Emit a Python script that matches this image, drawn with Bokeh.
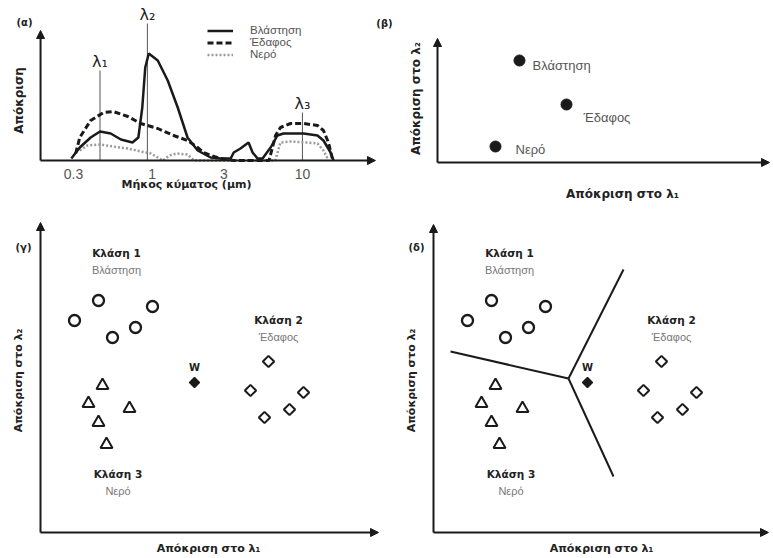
import math
from bokeh.plotting import figure
from bokeh.layouts import row, column
from bokeh.models import (Arrow, NormalHead, Label, LabelSet, Range1d,
                          ColumnDataSource, Legend, LegendItem)
from bokeh.core.properties import value
from bokeh.embed import file_html
from bokeh.resources import INLINE

# ---------------- data: panel (α) spectral responses ----------------
veg_um = [0.29, 0.33, 0.39, 0.45, 0.53, 0.62, 0.74, 0.81, 0.86, 0.90, 0.95, 1.09, 1.27,
          1.48, 1.72, 2.01, 2.45, 2.85, 3.33, 3.49, 3.87, 4.38, 4.66, 5.03, 5.43, 6.14,
          6.82, 7.48, 10.2, 12.6, 13.8, 15.4, 16.1]
veg_resp = [0.02, 0.13, 0.23, 0.29, 0.27, 0.21, 0.18, 0.23, 0.53, 0.93, 1.07, 1.00, 0.80,
            0.53, 0.23, 0.10, 0.03, 0.02, 0.02, 0.08, 0.12, 0.18, 0.08, 0.02, 0.02, 0.13,
            0.25, 0.27, 0.27, 0.25, 0.20, 0.08, 0.0]
soil_um = [0.31, 0.33, 0.39, 0.475, 0.55, 0.69, 0.84, 1.09, 1.39, 1.72, 2.01, 2.20, 2.45,
           2.85, 3.5, 6.0, 6.62, 7.14, 8.33, 10.2, 12.6, 13.8, 14.9, 15.8]
soil_resp = [0.07, 0.23, 0.40, 0.48, 0.49, 0.44, 0.37, 0.32, 0.25, 0.20, 0.13, 0.08, 0.05,
             0.02, 0.0, 0.0, 0.25, 0.33, 0.37, 0.37, 0.35, 0.30, 0.18, 0.02]
water_um = [0.33, 0.37, 0.45, 0.55, 0.69, 0.84, 0.98, 1.09, 1.18, 1.30, 1.45, 1.72, 1.90,
            6.6, 7.14, 8.33, 10.8, 12.6, 13.8, 14.7]
water_resp = [0.10, 0.15, 0.16, 0.14, 0.12, 0.09, 0.07, 0.03, 0.0, 0.05, 0.07, 0.06, 0.0,
              0.0, 0.18, 0.19, 0.18, 0.17, 0.10, 0.02]
series_names = ["Βλάστηση", "Έδαφος", "Νερό"]
lambda_um = [0.45, 0.93, 10.0]
lambda_top = [0.90, 1.37, 0.48]
lambda_names = ["λ₁", "λ₂", "λ₃"]
wl_ticks = [0.3, 1, 3, 10]
wl_tick_labels = ["0.3", "1", "3", "10"]

# ---------------- data: panel (β) ----------------
b_names = ["Βλάστηση", "Έδαφος", "Νερό"]
b_x = [8.2, 12.9, 5.8]
b_y = [10.2, 5.8, 1.6]

# ---------------- data: panels (γ), (δ) ----------------
c1_x = [5.8, 11.2, 3.4, 9.5, 7.2]
c1_y = [23.2, 22.6, 21.2, 20.5, 19.5]
c2_x = [22.8, 21.0, 26.3, 24.9, 22.4]
c2_y = [17.1, 14.2, 14.0, 12.3, 11.5]
c3_x = [6.2, 4.8, 8.9, 5.8, 6.6]
c3_y = [14.7, 12.9, 12.4, 11.0, 8.8]
w_x = [15.4]
w_y = [15.0]
class_names = ["Κλάση 1", "Κλάση 2", "Κλάση 3"]
class_covers = ["Βλάστηση", "Έδαφος", "Νερό"]
class_lx = [7.6, 23.8, 7.75]
class_ly = [27.95, 21.25, 5.9]
bound_x0 = [13.5, 13.5, 13.5]
bound_y0 = [15.4, 15.4, 15.4]
bound_x1 = [1.7, 19.0, 18.0]
bound_y1 = [18.1, 26.3, 5.6]

AX_LABEL_1 = "Απόκριση στο λ₁"
AX_LABEL_2 = "Απόκριση στο λ₂"

# ---------------- styles ----------------
INK = "#1a1a1a"
BOLD_FONT = "DejaVu Sans"
THIN_FONT = "Liberation Sans"
ROT = math.pi / 2


def make_fig(w, h, xr, yr, x_axis_type="linear"):
    p = figure(width=w, height=h, x_range=xr, y_range=yr, x_axis_type=x_axis_type,
               x_axis_location=None, y_axis_location=None,
               output_backend="svg", toolbar_location=None,
               min_border=0, min_border_left=0, min_border_right=0,
               min_border_top=0, min_border_bottom=0)
    p.grid.visible = False
    p.outline_line_color = None
    p.background_fill_color = "white"
    p.border_fill_color = "white"
    return p


def axis_arrows(p, x0, x1, y0, y1):
    for xe, ye in ((x1, y0), (x0, y1)):
        p.add_layout(Arrow(end=NormalHead(size=8, fill_color=INK, line_color=INK, line_width=1),
                           x_start=x0, y_start=y0, x_end=xe, y_end=ye,
                           line_color=INK, line_width=2))


def text_at(p, h, sx, sy_top, text, size="11px", bold=True, font=BOLD_FONT,
            color="#222222", angle=0.0):
    """sx, sy_top: pixel offsets from the figure's top-left corner."""
    p.add_layout(Label(x=sx, y=h - sy_top, x_units="screen", y_units="screen", text=text,
                       text_font=font, text_font_style="bold" if bold else "normal",
                       text_font_size=size, text_color=color, angle=angle,
                       text_align="center", text_baseline="middle"))


# ================= panel (α) =================
HA = 206
WA = 376
pa = make_fig(WA, HA, Range1d(0.098, 31.1), Range1d(-0.46, 1.60), x_axis_type="log")
pa.segment(x0=lambda_um, y0=[0] * 3, x1=lambda_um, y1=lambda_top, line_color="#555555", line_width=1)
r_water = pa.line(water_um, water_resp, line_color="#9a9a9a", line_width=2.5, line_dash="2 2")
r_soil = pa.line(soil_um, soil_resp, line_color=INK, line_width=3, line_dash="6 3")
r_veg = pa.line(veg_um, veg_resp, line_color=INK, line_width=2.5)
pa.add_layout(LabelSet(x="x", y="y", text="t",
                       source=ColumnDataSource(dict(x=lambda_um, y=lambda_top, t=lambda_names)),
                       text_font=value(BOLD_FONT), text_font_size="16px", text_color="#222222",
                       text_align="center", text_baseline="bottom"))
pa.add_layout(LabelSet(x="x", y=HA - 173, y_units="screen", text="t",
                       source=ColumnDataSource(dict(x=wl_ticks, t=wl_tick_labels)),
                       text_font=value(THIN_FONT), text_font_size="14px", text_color="#555555",
                       text_align="center", text_baseline="middle"))
axis_arrows(pa, 0.181, 30.6, 0, 1.30)
leg = Legend(items=[LegendItem(label=n, renderers=[r]) for n, r in
                    zip(series_names, [r_veg, r_soil, r_water])],
             location=(207, HA - 60), orientation="vertical")
leg.background_fill_alpha = 0
leg.border_line_color = None
leg.padding = 0
leg.margin = 0
leg.spacing = -3
leg.glyph_width = 26
leg.glyph_height = 11
leg.label_height = 11
leg.label_standoff = 17
leg.label_text_font = THIN_FONT
leg.label_text_font_size = "11.5px"
leg.label_text_color = "#555555"
pa.add_layout(leg, "center")
text_at(pa, HA, 24, 22, "(α)", size="10px")
text_at(pa, HA, 18, 100, "Απόκριση", size="12px", angle=ROT)
text_at(pa, HA, 186, 184, "Μήκος κύματος (μm)", size="11px")

# ================= panel (β) =================
HB = 206
WB = 394
pb = make_fig(WB, HB, Range1d(-6.1, 33.3), Range1d(-4.4, 16.2))
pb.scatter(b_x, b_y, marker="circle", size=11, fill_color=INK, line_color=INK)
pb.text(x=b_x, y=b_y, text=b_names, x_offset=[13, 17, 20], y_offset=[5, 13, 3],
        text_font=value(THIN_FONT), text_font_size="13px", text_color="#555555",
        text_align="left", text_baseline="middle")
axis_arrows(pb, 0, 33.2, 0, 12.4)
text_at(pb, HB, 384 - WA, 23, "(β)", size="10px")
text_at(pb, HB, 415 - WA, 98, AX_LABEL_2, size="12px", angle=ROT)
text_at(pb, HB, 622 - WA, 193, AX_LABEL_1, size="12px")


# ================= panels (γ), (δ) =================
HC = 350


def class_panel(w, xr, x_end, y_end, tag, x0px, boundaries):
    p = make_fig(w, HC, xr, Range1d(-2.4, 32.6))
    if boundaries:
        p.segment(x0=bound_x0, y0=bound_y0, x1=bound_x1, y1=bound_y1, line_color=INK, line_width=2)
    p.scatter(c1_x, c1_y, marker="circle", size=11, fill_color="white", line_color=INK, line_width=2.3)
    p.scatter(c2_x, c2_y, marker="square", angle=math.pi / 4, size=8, fill_color="white",
              line_color=INK, line_width=2)
    p.scatter(c3_x, c3_y, marker="triangle", size=12, fill_color="white", line_color=INK, line_width=2)
    p.scatter(w_x, w_y, marker="square", angle=math.pi / 4, size=7, fill_color=INK, line_color=INK,
              line_width=1.5)
    p.text(x=w_x, y=w_y, text=["W"], y_offset=-15, text_font=value(BOLD_FONT),
           text_font_style="bold", text_font_size="10px", text_color="#222222",
           text_align="center", text_baseline="middle")
    p.text(x=class_lx, y=class_ly, text=class_names, text_font=value(BOLD_FONT),
           text_font_style="bold", text_font_size="10.5px", text_color="#222222",
           text_align="center", text_baseline="middle")
    p.text(x=class_lx, y=class_ly, text=class_covers, y_offset=17, text_font=value(THIN_FONT),
           text_font_size="11px", text_color="#777777",
           text_align="center", text_baseline="middle")
    axis_arrows(p, 0, x_end, 0, y_end)
    text_at(p, HC, x0px - 17, 247 - 206, tag, size="10px")
    text_at(p, HC, x0px - 22, 380 - 206, AX_LABEL_2, size="11px", angle=ROT)
    text_at(p, HC, x0px + 168, 548 - 206, AX_LABEL_1, size="11px")
    return p


pg = class_panel(388, Range1d(-4.0, 34.8), 33.8, 31.0, "(γ)", 40, False)
pd_ = class_panel(382, Range1d(-4.5, 33.7), 33.5, 30.8, "(δ)", 433 - 388, True)

layout = column(row(pa, pb), row(pg, pd_))
open("out.html", "w").write(file_html(layout, INLINE))
